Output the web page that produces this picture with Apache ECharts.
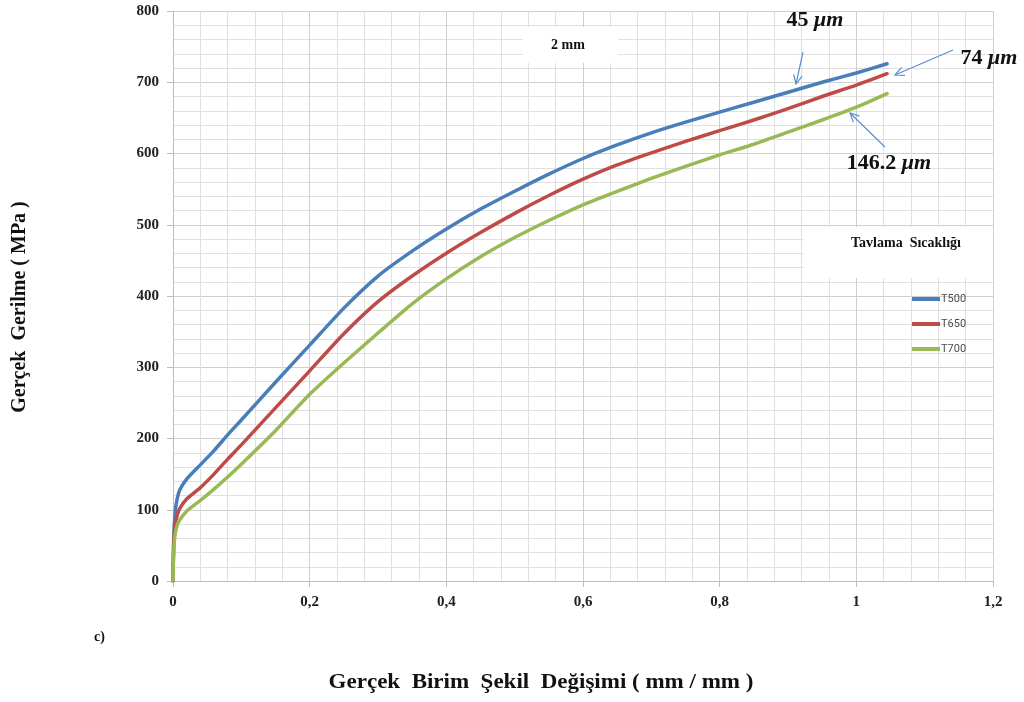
<!DOCTYPE html>
<html>
<head>
<meta charset="utf-8">
<script src="https://cdn.jsdelivr.net/npm/echarts@6/dist/echarts.min.js"></script>
<style>
  html, body { margin: 0; padding: 0; background: #fff; }
  #chart { width: 1024px; height: 702px; }
</style>
</head>
<body>
<div id="chart"></div>
<script>
// gerçek birim şekil değişimi (x) değerleri
var strain = [0, 0.001, 0.003, 0.006, 0.01, 0.02, 0.04, 0.06, 0.08, 0.1, 0.15, 0.2, 0.25, 0.3, 0.35,
  0.4, 0.45, 0.5, 0.55, 0.6, 0.65, 0.7, 0.75, 0.8, 0.85, 0.9, 0.95, 1.0, 1.045];

// gerilme değerleri (MPa)
var t500 = [0, 60, 95, 115, 128, 143, 163, 183, 205, 226, 279, 331, 383, 428, 463,
  494, 522, 547, 571, 593, 612, 629, 644, 658, 672, 686, 700, 713, 726];
var t650 = [0, 50, 78, 92, 102, 115, 131, 150, 171, 191, 243, 295, 347, 392, 428,
  460, 489, 516, 541, 564, 584, 601, 617, 632, 647, 663, 680, 696, 712];
var t700 = [0, 40, 65, 78, 86, 98, 113, 129, 146, 164, 211, 262, 306, 348, 389,
  424, 455, 482, 506, 528, 547, 565, 582, 598, 613, 630, 647, 665, 684];

var seriesNames = ['T500', 'T650', 'T700'];
var seriesColors = ['#4a7ebb', '#be4b48', '#98b954'];
var xTicks = [0, 0.2, 0.4, 0.6, 0.8, 1, 1.2];
var yTicks = [0, 100, 200, 300, 400, 500, 600, 700, 800];

function pairs(ys) {
  return strain.map(function(x, i) { return [x, ys[i]]; });
}

var serif = '"Liberation Serif", "DejaVu Serif", serif';
var myChart = echarts.init(document.getElementById('chart'));

// ok çizgisi + ucunda açık V başlık
function arrow(x1, y1, x2, y2) {
  var a = Math.atan2(y2 - y1, x2 - x1);
  var L = 10, w = 0.45;
  var p1 = [x2 - L * Math.cos(a - w), y2 - L * Math.sin(a - w)];
  var p2 = [x2 - L * Math.cos(a + w), y2 - L * Math.sin(a + w)];
  var st = { stroke: '#5b8fd0', lineWidth: 1.2, fill: null };
  return [
    { type: 'line', shape: { x1: x1, y1: y1, x2: x2, y2: y2 }, style: st, z: 100 },
    { type: 'polyline', shape: { points: [p1, [x2, y2], p2] }, style: st, z: 100 }
  ];
}

function umLabel(x, y, num) {
  return {
    type: 'text', x: x, y: y, z: 100,
    style: {
      rich: { n: { font: 'bold 22px ' + serif, fill: '#111' }, u: { font: 'bold italic 22px ' + serif, fill: '#111' } },
      text: '{n|' + num + ' }{u|μm}', textAlign: 'center', textVerticalAlign: 'middle'
    }
  };
}

var graphics = [
  // kutular
  { type: 'rect', shape: { x: 523, y: 27, width: 95, height: 36 }, style: { fill: '#fff' }, z: 50 },
  { type: 'text', x: 568, y: 45, style: { text: '2 mm', font: 'bold 14px ' + serif, fill: '#111', textAlign: 'center', textVerticalAlign: 'middle' }, z: 60 },
  { type: 'rect', shape: { x: 804, y: 227, width: 189, height: 51 }, style: { fill: '#fff' }, z: 50 },
  { type: 'text', x: 906, y: 243, style: { text: 'Tavlama  Sıcaklığı', font: 'bold 14px ' + serif, fill: '#111', textAlign: 'center', textVerticalAlign: 'middle' }, z: 60 },
  // eksen adları
  { type: 'text', x: 20, y: 307, rotation: Math.PI / 2, style: { text: 'Gerçek  Gerilme ( MPa )', font: 'bold 20px ' + serif, fill: '#111', textAlign: 'center', textVerticalAlign: 'middle' } },
  { type: 'text', x: 541, y: 683, scaleX: 1.15, style: { text: 'Gerçek  Birim  Şekil  Değişimi ( mm / mm )', font: 'bold 20px ' + serif, fill: '#111', textAlign: 'center', textVerticalAlign: 'middle' } },
  { type: 'text', x: 94, y: 637, style: { text: 'c)', font: 'bold 14px ' + serif, fill: '#111', textVerticalAlign: 'middle' } },
  // tane boyutu etiketleri
  umLabel(815, 20, '45'),
  umLabel(989, 58, '74'),
  umLabel(889, 163, '146.2')
];
graphics = graphics.concat(arrow(803, 52, 796, 84), arrow(953, 50, 895, 75), arrow(885, 147, 850, 113));

var option = {
  animation: false,
  backgroundColor: '#fff',
  grid: { left: 173, right: 31, top: 11, bottom: 121 },
  legend: {
    orient: 'vertical',
    left: 907, top: 288,
    icon: 'rect', itemWidth: 28, itemHeight: 4, itemGap: 13,
    textStyle: { fontFamily: 'Roboto, sans-serif', fontSize: 11, color: '#4d4d4d', padding: [0, 0, 0, -4], lineHeight: 12 },
    data: seriesNames
  },
  xAxis: {
    type: 'value', min: 0, max: 1.2, interval: 0.2,
    axisLine: { show: true, lineStyle: { color: '#bdbdbd' } },
    axisTick: { show: true, length: 6, lineStyle: { color: '#bdbdbd' } },
    axisLabel: {
      margin: 14, color: '#222', fontFamily: serif, fontWeight: 'bold', fontSize: 15,
      formatter: function(v) {
        var t = xTicks.filter(function(k) { return Math.abs(k - v) < 1e-9; })[0];
        return String(+t.toFixed(1)).replace('.', ',');
      }
    },
    splitLine: { show: true, lineStyle: { color: '#cfcfcf', width: 1 } },
    minorTick: { show: false, splitNumber: 5 },
    minorSplitLine: { show: true, lineStyle: { color: '#e0e0e0', width: 1 } }
  },
  yAxis: {
    type: 'value', min: yTicks[0], max: yTicks[yTicks.length - 1], interval: 100,
    axisLine: { show: true, lineStyle: { color: '#bdbdbd' } },
    axisTick: { show: true, length: 6, lineStyle: { color: '#bdbdbd' } },
    axisLabel: { margin: 14, color: '#222', fontFamily: serif, fontWeight: 'bold', fontSize: 15 },
    splitLine: { show: true, lineStyle: { color: '#cfcfcf', width: 1 } },
    minorTick: { show: false, splitNumber: 5 },
    minorSplitLine: { show: true, lineStyle: { color: '#e0e0e0', width: 1 } }
  },
  series: [t500, t650, t700].map(function(ys, i) {
    return {
      name: seriesNames[i],
      type: 'line',
      data: pairs(ys),
      smooth: 0.2,
      showSymbol: false,
      color: seriesColors[i],
      lineStyle: { width: 3.5, color: seriesColors[i], join: 'round', cap: 'round' },
      z: 10
    };
  }),
  graphic: graphics
};
myChart.setOption(option);
</script>
</body>
</html>
